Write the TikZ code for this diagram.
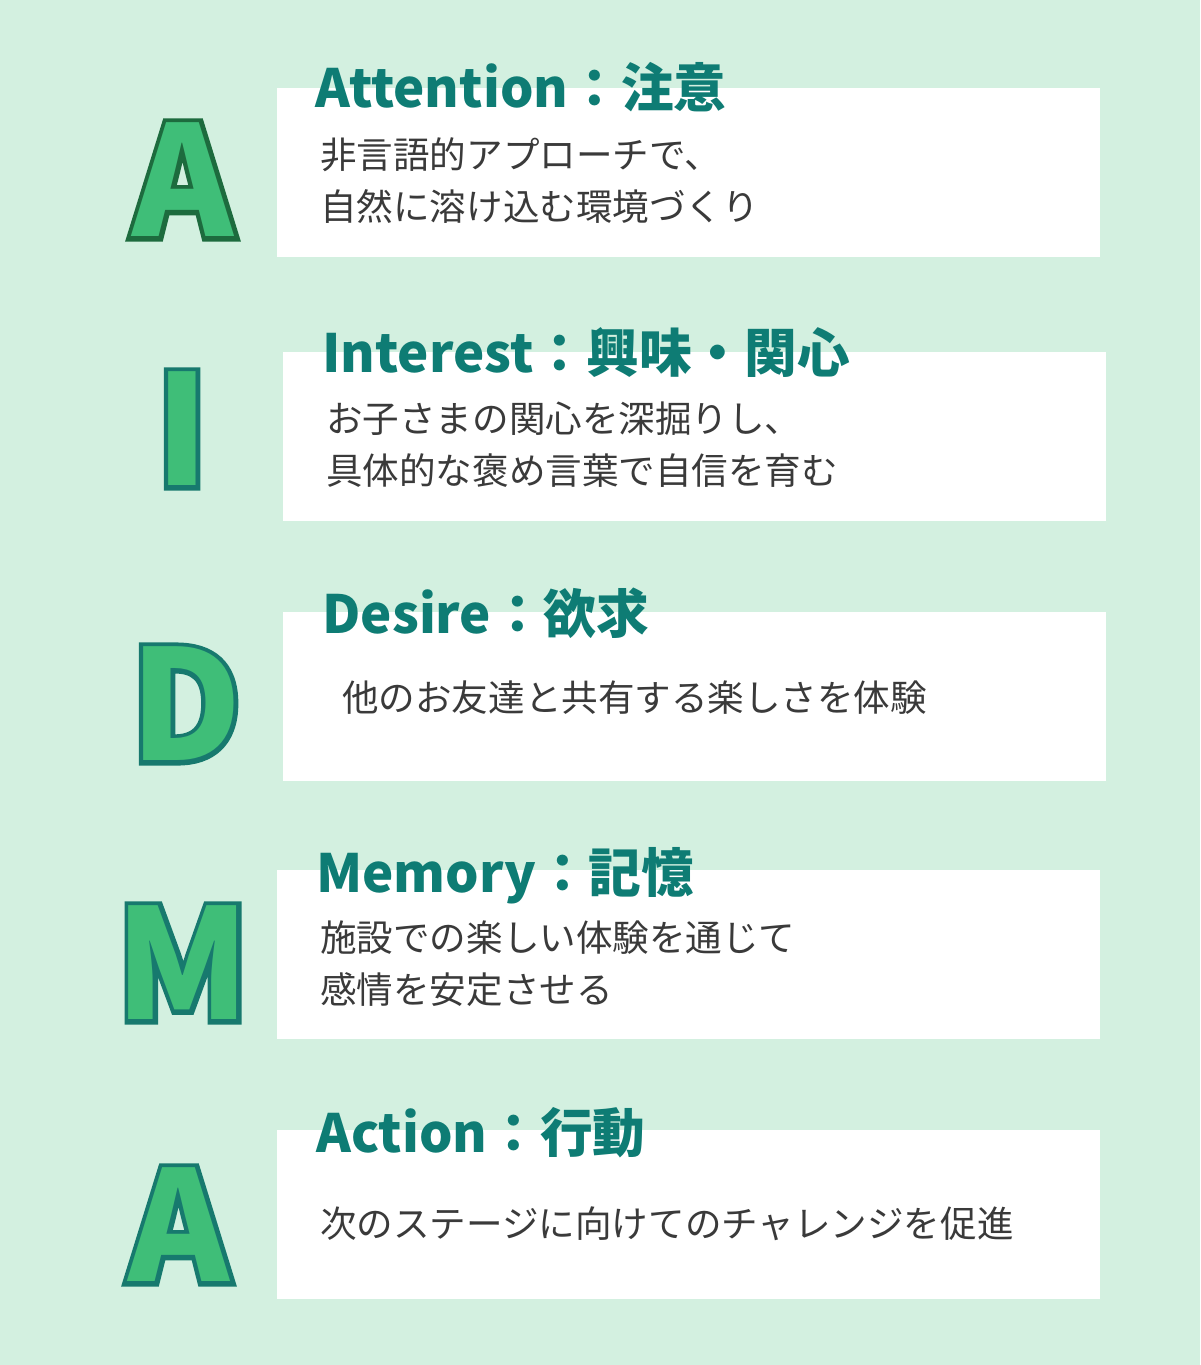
\documentclass[tikz,border=0pt]{standalone}
\usepackage{fontspec}
\setmainfont{Noto Sans CJK JP}
\newfontfamily\edgefont{Noto Sans CJK JP}[BoldFeatures={FakeBold=6}]
\usetikzlibrary{positioning}

\definecolor{bgmint}{HTML}{D3F0E0}
\definecolor{titleteal}{HTML}{0E7C74}
\definecolor{bodygray}{HTML}{3A3A3A}
\definecolor{letterfill}{HTML}{3FBE78}
\definecolor{lineteal}{HTML}{17796E}
\definecolor{linegreen}{HTML}{1D6B3E}

\tikzset{
  stagebox/.style = {fill=white, draw=none, anchor=north west, inner sep=0pt,
    minimum width=16.46cm, minimum height=3.38cm},
  stagetitle/.style = {anchor=base west, inner sep=0pt, text=titleteal,
    font=\bfseries\fontsize{30}{35}\selectfont},
  stagetext/.style = {anchor=base west, inner sep=0pt, text=bodygray, align=left,
    font=\fontsize{20.8}{29.5}\selectfont},
  letter/.style = {inner sep=0pt, text=letterfill,
    font=\bfseries\fontsize{87}{96}\selectfont},
  letteredge/.style = {inner sep=0pt,
    font=\edgefont\bfseries\fontsize{87}{96}\selectfont}
}

% outlined capital: emboldened copy underneath, the fill on top
\newcommand\bigletter[4]{%
  \node[letteredge, text=#4] at (#2) {#3};
  \node[letter] (#1) at (#2) {#3};}

\begin{document}
\begin{tikzpicture}[x=0.02cm, y=-0.02cm]
  \fill[bgmint] (0,0) rectangle (1200,1365);
  \useasboundingbox (0,0) rectangle (1200,1365);

  % boxes
  \node[stagebox] (box1) at (277,88) {};
  \node[stagebox] (box2) at (283,352) {};
  \node[stagebox] (box3) at (283,612) {};
  \node[stagebox] (box4) at (277,870) {};
  \node[stagebox] (box5) at (277,1130) {};

  % titles
  \node[stagetitle] (title1) at (315,108) {Attention：注意};
  \node[stagetitle] (title2) at (322,372) {Interest：興味・関心};
  \node[stagetitle] (title3) at (322,633) {Desire：欲求};
  \node[stagetitle] (title4) at (316,892) {Memory：記憶};
  \node[stagetitle] (title5) at (316,1152) {Action：行動};

  % descriptions (base = last line)
  \node[stagetext] (text1) at (320,220) {非言語的アプローチで、\\自然に溶け込む環境づくり};
  \node[stagetext] (text2) at (326,484) {お子さまの関心を深掘りし、\\具体的な褒め言葉で自信を育む};
  \node[stagetext] (text3) at (342,711) {他のお友達と共有する楽しさを体験};
  \node[stagetext] (text4) at (320,1003) {施設での楽しい体験を通じて\\感情を安定させる};
  \node[stagetext] (text5) at (320,1237) {次のステージに向けてのチャレンジを促進};

  % AIDMA letters
  \bigletter{letterA}{183,180}{A}{linegreen}
  \bigletter{letterI}{182,429}{I}{lineteal}
  \bigletter{letterD}{186,704}{D}{lineteal}
  \bigletter{letterM}{183,963}{M}{lineteal}
  \bigletter{letterAA}{179,1225}{A}{lineteal}
\end{tikzpicture}
\end{document}
